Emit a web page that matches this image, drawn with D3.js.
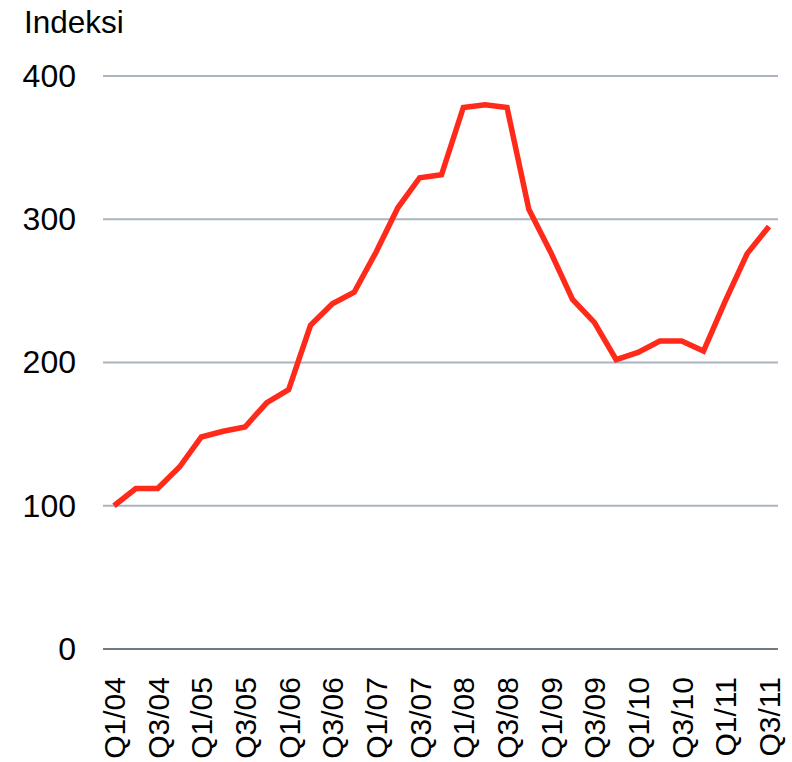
<!DOCTYPE html>
<html>
<head>
<meta charset="utf-8">
<script src="https://cdn.jsdelivr.net/npm/d3@7"></script>
<style>
  body { margin: 0; background: #fff; }
  svg { display: block; font-family: "Liberation Sans", Arial, sans-serif; }
</style>
</head>
<body>
<svg id="chart" width="792" height="762"></svg>
<script>
// Quarterly index series, Q1/04 = 100
const quarters = [
  "Q1/04","Q2/04","Q3/04","Q4/04",
  "Q1/05","Q2/05","Q3/05","Q4/05",
  "Q1/06","Q2/06","Q3/06","Q4/06",
  "Q1/07","Q2/07","Q3/07","Q4/07",
  "Q1/08","Q2/08","Q3/08","Q4/08",
  "Q1/09","Q2/09","Q3/09","Q4/09",
  "Q1/10","Q2/10","Q3/10","Q4/10",
  "Q1/11","Q2/11","Q3/11"
];
const indexValues = [
  100, 112, 112, 127,
  148, 152, 155, 172,
  181, 226, 241, 249,
  277, 308, 329, 331,
  378, 380, 378, 307,
  277, 244, 228, 202,
  207, 215, 215, 208,
  243, 276, 295
];
const yTicks = [0, 100, 200, 300, 400];
const xTickLabels = quarters.filter((q, i) => i % 2 === 0);
const yTitle = "Indeksi";

const svg = d3.select("#chart");
const plot = { left: 103, right: 778, top: 76, bottom: 649 };
const FONT = "Liberation Sans, Arial, sans-serif";

const x = d3.scalePoint().domain(quarters).range([114, 769]);
const y = d3.scaleLinear().domain([0, 400]).range([plot.bottom, plot.top]);

// horizontal gridlines
svg.append("g")
  .selectAll("line")
  .data(yTicks.filter(d => d > 0))
  .join("line")
  .attr("x1", plot.left).attr("x2", plot.right)
  .attr("y1", d => y(d)).attr("y2", d => y(d))
  .attr("stroke", "#aab4c0").attr("stroke-width", 2);

// baseline
svg.append("line")
  .attr("x1", plot.left).attr("x2", plot.right)
  .attr("y1", y(0)).attr("y2", y(0))
  .attr("stroke", "#6e7a84").attr("stroke-width", 2);

// y axis labels
const yAxis = svg.append("g")
  .attr("transform", `translate(76,0)`)
  .call(d3.axisLeft(y).tickValues(yTicks).tickSize(0).tickPadding(0));
yAxis.select(".domain").remove();
yAxis.selectAll("text")
  .attr("font-size", 32)
  .attr("fill", "#000")
  .attr("font-family", FONT);

// x axis labels, rotated
const xAxis = svg.append("g")
  .attr("transform", `translate(0,${plot.bottom})`)
  .call(d3.axisBottom(x).tickValues(xTickLabels).tickSize(0).tickPadding(0));
xAxis.select(".domain").remove();
xAxis.selectAll("text")
  .attr("font-size", 30)
  .attr("fill", "#000")
  .attr("font-family", FONT)
  .attr("text-anchor", "end")
  .attr("dy", "0.35em")
  .attr("transform", "translate(0,28) rotate(-90)")
  .attr("x", 0).attr("y", 0);

// title
svg.append("text")
  .attr("x", 24).attr("y", 33)
  .attr("font-size", 31.5)
  .attr("font-family", FONT)
  .attr("fill", "#000")
  .text(yTitle);

// index line
const line = d3.line()
  .x((d, i) => x(quarters[i]))
  .y(d => y(d));
svg.append("path")
  .datum(indexValues)
  .attr("d", line)
  .attr("fill", "none")
  .attr("stroke", "#ff2a1a")
  .attr("stroke-width", 5.5)
  .attr("stroke-linejoin", "miter");
</script>
</body>
</html>
